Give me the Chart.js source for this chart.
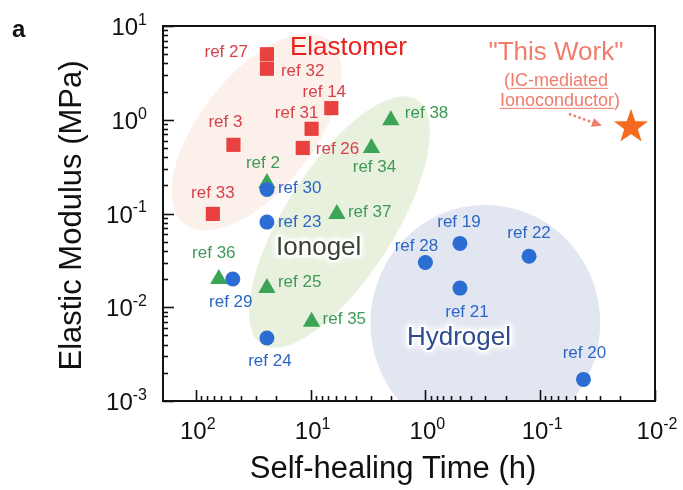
<!DOCTYPE html>
<html>
<head>
<meta charset="utf-8">
<script src="https://cdn.jsdelivr.net/npm/chart.js@4.4.1/dist/chart.umd.min.js"></script>
<style>
  html, body { margin: 0; padding: 0; background: #fff; }
  #wrap { width: 683px; height: 490px; position: relative; }
</style>
</head>
<body>
<div id="wrap"><canvas id="c" width="683" height="490"></canvas></div>
<script>
// Self-healing time (h) vs. elastic modulus (MPa) for each material class
const elastomerRefs    = ['ref 27', 'ref 32', 'ref 14', 'ref 31', 'ref 26', 'ref 3', 'ref 33'];
const elastomerTime    = [24, 24, 6.6, 9.8, 11.7, 47, 71];
const elastomerModulus = [5.0, 3.5, 1.33, 0.80, 0.50, 0.54, 0.099];

const ionogelRefs    = ['ref 2', 'ref 38', 'ref 34', 'ref 37', 'ref 36', 'ref 25', 'ref 35'];
const ionogelTime    = [24, 2.0, 2.95, 5.9, 63, 24, 9.8];
const ionogelModulus = [0.211, 0.99, 0.50, 0.099, 0.020, 0.016, 0.0070];

const hydrogelRefs    = ['ref 30', 'ref 23', 'ref 29', 'ref 24', 'ref 28', 'ref 19', 'ref 21', 'ref 22', 'ref 20'];
const hydrogelTime    = [24, 24, 47.6, 24, 1.0, 0.50, 0.50, 0.125, 0.042];
const hydrogelModulus = [0.18, 0.081, 0.020, 0.0047, 0.030, 0.048, 0.016, 0.035, 0.0017];

const thisWorkTime    = [0.0162];
const thisWorkModulus = [0.84];

// Axis ranges and decade tick exponents
const xRange = [0.01, 193];
const yRange = [0.001, 10];
const xTickExponents = [2, 1, 0, -1, -2];
const yTickExponents = [1, 0, -1, -2, -3];

// Shaded class regions: centre and two conjugate semi-axis end points, in log10 units
const regionNames = ['Elastomer', 'Hydrogel', 'Ionogel'];
const regionCentre = [[1.470, -0.131], [-0.522, -2.168], [0.748, -1.091]];
const regionAxisA  = [[0.843,  0.851], [-1.522, -2.168], [0.070,  0.211]];
const regionAxisB  = [[1.078, -0.504], [-0.522, -0.909], [0.348, -1.411]];
const regionLabelAt = [[4.68, 4.9], [0.51, 0.00395], [8.5, 0.036]];

// ---------------------------------------------------------------------
const FONT = '"Liberation Sans", Arial, Helvetica, sans-serif';
const RED = '#e8413f', GREEN = '#3ca457', BLUE = '#2b6dd3', ORANGE = '#f46a1e';
const RED_TXT = '#d8404a', GREEN_TXT = '#3f9a57', BLUE_TXT = '#2e66c6', SALMON = '#f07c6c';
const regionFill  = ['#fcf0ea', '#e2e6f1', '#e8f1dd'];
const regionText  = ['#e8221f', '#2f4c8e', '#3a4333'];

// label placement around each marker: [dx, dy, align]
const labelPlacement = {
  'ref 27': [-19, -2, 'right'], 'ref 32': [14, 3, 'left'],  'ref 14': [-7, -16, 'center'],
  'ref 31': [-15, -16, 'center'], 'ref 26': [13, 1, 'left'], 'ref 3': [-8, -23, 'center'],
  'ref 33': [0, -21, 'center'], 'ref 2': [-4, -20, 'center'], 'ref 38': [14, -7, 'left'],
  'ref 34': [3, 19, 'center'], 'ref 37': [11, -2, 'left'], 'ref 36': [-5, -26, 'center'],
  'ref 25': [11, -6, 'left'], 'ref 35': [11, -2, 'left'], 'ref 30': [11, -1, 'left'],
  'ref 23': [11, 0, 'left'], 'ref 29': [-2, 23, 'center'], 'ref 24': [3, 23, 'center'],
  'ref 28': [-9, -16, 'center'], 'ref 19': [-1, -21, 'center'], 'ref 21': [7, 24, 'center'],
  'ref 22': [0, -23, 'center'], 'ref 20': [1, -26, 'center']
};

function pts(xs, ys) { return xs.map((x, i) => ({ x: x, y: ys[i] })); }

function starImage(R, color) {
  const size = Math.ceil(R * 2) + 4;
  const c = document.createElement('canvas');
  c.width = c.height = size;
  const g = c.getContext('2d');
  const cx = size / 2, cy = size / 2;
  g.beginPath();
  for (let i = 0; i < 10; i++) {
    const r = i % 2 ? R * 0.40 : R;
    const a = -Math.PI / 2 + i * Math.PI / 5;
    const px = cx + r * Math.cos(a), py = cy + r * Math.sin(a);
    if (i === 0) g.moveTo(px, py); else g.lineTo(px, py);
  }
  g.closePath();
  g.fillStyle = color;
  g.fill();
  return c;
}

// shaded regions behind the markers
const regionsPlugin = {
  id: 'regions',
  beforeDatasetsDraw(chart) {
    const { ctx, chartArea: a, scales: { x, y } } = chart;
    const P = (lx, ly) => [x.getPixelForValue(Math.pow(10, lx)), y.getPixelForValue(Math.pow(10, ly))];
    ctx.save();
    ctx.beginPath();
    ctx.rect(a.left, a.top, a.right - a.left, a.bottom - a.top);
    ctx.clip();
    regionNames.forEach((name, i) => {
      const c = P(...regionCentre[i]), p = P(...regionAxisA[i]), q = P(...regionAxisB[i]);
      const u = [p[0] - c[0], p[1] - c[1]], v = [q[0] - c[0], q[1] - c[1]];
      ctx.beginPath();
      for (let k = 0; k <= 120; k++) {
        const t = k / 120 * Math.PI * 2;
        const px = c[0] + Math.cos(t) * u[0] + Math.sin(t) * v[0];
        const py = c[1] + Math.cos(t) * u[1] + Math.sin(t) * v[1];
        if (k === 0) ctx.moveTo(px, py); else ctx.lineTo(px, py);
      }
      ctx.closePath();
      ctx.fillStyle = regionFill[i];
      ctx.fill();
    });
    ctx.restore();
  }
};

function drawPow(ctx, base, exp, x, y, align, baseSize, supSize) {
  ctx.font = baseSize + 'px ' + FONT;
  const wb = ctx.measureText(base).width;
  ctx.font = supSize + 'px ' + FONT;
  const we = ctx.measureText(exp).width;
  const total = wb + we;
  let x0 = align === 'right' ? x - total : (align === 'center' ? x - total / 2 : x);
  ctx.textAlign = 'left';
  ctx.textBaseline = 'alphabetic';
  ctx.font = baseSize + 'px ' + FONT;
  ctx.fillText(base, x0, y);
  ctx.font = supSize + 'px ' + FONT;
  ctx.fillText(exp, x0 + wb, y - baseSize * 0.42);
}

// frame, inward ticks, tick labels, titles and annotations
const decorPlugin = {
  id: 'decor',
  afterDatasetsDraw(chart) {
    const { ctx, chartArea: a, scales: { x, y } } = chart;
    ctx.save();

    // marker labels
    ctx.font = '17px ' + FONT;
    ctx.textBaseline = 'middle';
    const groups = [
      [elastomerRefs, elastomerTime, elastomerModulus, RED_TXT],
      [ionogelRefs, ionogelTime, ionogelModulus, GREEN_TXT],
      [hydrogelRefs, hydrogelTime, hydrogelModulus, BLUE_TXT]
    ];
    groups.forEach(([refs, xs, ys, col]) => {
      refs.forEach((r, i) => {
        const pl = labelPlacement[r];
        const px = x.getPixelForValue(xs[i]) + pl[0];
        const py = y.getPixelForValue(ys[i]) + pl[1];
        ctx.fillStyle = col;
        ctx.textAlign = pl[2];
        ctx.fillText(r, px, py);
      });
    });

    // region names (Ionogel and Hydrogel sit on a soft white glow)
    ctx.font = '26px ' + FONT;
    ctx.textAlign = 'center';
    ctx.textBaseline = 'alphabetic';
    regionNames.forEach((name, i) => {
      const px = x.getPixelForValue(regionLabelAt[i][0]);
      const py = y.getPixelForValue(regionLabelAt[i][1]);
      if (i > 0) {
        ctx.save();
        ctx.shadowColor = 'rgba(255,255,255,0.95)';
        ctx.shadowBlur = 7;
        ctx.strokeStyle = 'rgba(255,255,255,0.85)';
        ctx.lineWidth = 4;
        ctx.lineJoin = 'round';
        ctx.strokeText(name, px, py);
        ctx.strokeText(name, px, py);
        ctx.restore();
      }
      ctx.fillStyle = regionText[i];
      ctx.fillText(name, px, py);
    });

    // "This Work" note with dotted arrow toward the star
    const sx = x.getPixelForValue(thisWorkTime[0]);
    const sy = y.getPixelForValue(thisWorkModulus[0]);
    ctx.fillStyle = SALMON;
    ctx.strokeStyle = SALMON;
    ctx.font = '26px ' + FONT;
    ctx.textAlign = 'center';
    ctx.fillText('"This Work"', sx - 75, sy - 67);
    ctx.font = '18px ' + FONT;
    const lines = [['(', 'IC-mediated', ''], ['', 'Ionoconductor', ')']];
    const lineY = [sy - 41, sy - 21];
    const lineX = [sx - 75, sx - 71];
    lines.forEach((parts, i) => {
      const full = parts.join('');
      const w = ctx.measureText(full).width;
      const x0 = lineX[i] - w / 2;
      ctx.textAlign = 'left';
      ctx.fillText(full, x0, lineY[i]);
      const u0 = x0 + ctx.measureText(parts[0]).width;
      const u1 = u0 + ctx.measureText(parts[1]).width;
      ctx.lineWidth = 1;
      ctx.beginPath();
      ctx.moveTo(u0, lineY[i] + 2.5);
      ctx.lineTo(u1, lineY[i] + 2.5);
      ctx.stroke();
    });
    const ax0 = sx - 62, ay0 = sy - 13, ax1 = sx - 29, ay1 = sy - 1;
    const ang = Math.atan2(ay1 - ay0, ax1 - ax0);
    ctx.lineWidth = 2.5;
    ctx.setLineDash([2.5, 2.5]);
    ctx.beginPath();
    ctx.moveTo(ax0, ay0);
    ctx.lineTo(ax1 - 8 * Math.cos(ang), ay1 - 8 * Math.sin(ang));
    ctx.stroke();
    ctx.setLineDash([]);
    ctx.beginPath();
    ctx.moveTo(ax1, ay1);
    ctx.lineTo(ax1 - 10 * Math.cos(ang) + 4.5 * Math.sin(ang), ay1 - 10 * Math.sin(ang) - 4.5 * Math.cos(ang));
    ctx.lineTo(ax1 - 10 * Math.cos(ang) - 4.5 * Math.sin(ang), ay1 - 10 * Math.sin(ang) + 4.5 * Math.cos(ang));
    ctx.closePath();
    ctx.fill();
    ctx.restore();
  },
  afterDraw(chart) {
    const { ctx, chartArea: a, scales: { x, y } } = chart;
    ctx.save();
    ctx.strokeStyle = '#111';
    ctx.fillStyle = '#111';

    // inward ticks
    ctx.lineWidth = 1.6;
    for (let e = -4; e <= 2; e++) {
      for (let m = 1; m <= 9; m++) {
        const v = m * Math.pow(10, e);
        const len = m === 1 ? 11 : 5;
        if (v >= yRange[0] && v <= yRange[1]) {
          const py = Math.round(y.getPixelForValue(v)) + 0.5;
          ctx.beginPath(); ctx.moveTo(a.left, py); ctx.lineTo(a.left + len, py); ctx.stroke();
        }
        if (v >= xRange[0] && v <= xRange[1]) {
          const px = Math.round(x.getPixelForValue(v)) + 0.5;
          ctx.beginPath(); ctx.moveTo(px, a.bottom); ctx.lineTo(px, a.bottom - len); ctx.stroke();
        }
      }
    }

    // frame
    ctx.lineWidth = 2;
    ctx.strokeRect(a.left, a.top, a.right - a.left, a.bottom - a.top);

    // decade tick labels
    yTickExponents.forEach(e => {
      const py = y.getPixelForValue(Math.pow(10, e));
      drawPow(ctx, '10', String(e), a.left - 16, py + 9, 'right', 24, 16);
    });
    xTickExponents.forEach(e => {
      const px = x.getPixelForValue(Math.pow(10, e));
      drawPow(ctx, '10', String(e), px + 2, a.bottom + 38, 'center', 24, 16);
    });

    // axis titles
    ctx.font = '31px ' + FONT;
    ctx.textAlign = 'center';
    ctx.textBaseline = 'middle';
    ctx.fillText('Self-healing Time (h)', (a.left + a.right) / 2 - 16, 469);
    ctx.save();
    ctx.translate(72, (a.top + a.bottom) / 2 + 2);
    ctx.rotate(-Math.PI / 2);
    ctx.fillText('Elastic Modulus (MPa)', 0, 0);
    ctx.restore();

    // panel letter
    ctx.font = 'bold 24px ' + FONT;
    ctx.textAlign = 'left';
    ctx.textBaseline = 'alphabetic';
    ctx.fillText('a', 12, 37);
    ctx.restore();
  }
};

const chart = new Chart(document.getElementById('c'), {
  type: 'scatter',
  data: {
    datasets: [
      { label: 'Elastomer', data: pts(elastomerTime, elastomerModulus), pointStyle: 'rect',
        pointRadius: 10, backgroundColor: RED, borderWidth: 0 },
      { label: 'Hydrogel', data: pts(hydrogelTime, hydrogelModulus), pointStyle: 'circle',
        pointRadius: 7.5, backgroundColor: BLUE, borderWidth: 0 },
      { label: 'Ionogel', data: pts(ionogelTime, ionogelModulus), pointStyle: 'triangle',
        pointRadius: 10, backgroundColor: GREEN, borderWidth: 0 },
      { label: 'This Work', data: pts(thisWorkTime, thisWorkModulus),
        pointStyle: starImage(18, ORANGE), pointRadius: 18, backgroundColor: ORANGE, borderWidth: 0 }
    ]
  },
  options: {
    responsive: false,
    animation: false,
    devicePixelRatio: 1,
    layout: { padding: { left: 0, right: 28, top: 26, bottom: 0 } },
    plugins: { legend: { display: false }, tooltip: { enabled: false } },
    scales: {
      x: {
        type: 'logarithmic', reverse: true, min: xRange[0], max: xRange[1],
        grid: { display: false }, border: { display: false }, ticks: { display: false },
        afterFit: s => { s.height = 89; }
      },
      y: {
        type: 'logarithmic', min: yRange[0], max: yRange[1],
        grid: { display: false }, border: { display: false }, ticks: { display: false },
        afterFit: s => { s.width = 163; }
      }
    }
  },
  plugins: [regionsPlugin, decorPlugin]
});
</script>
</body>
</html>
